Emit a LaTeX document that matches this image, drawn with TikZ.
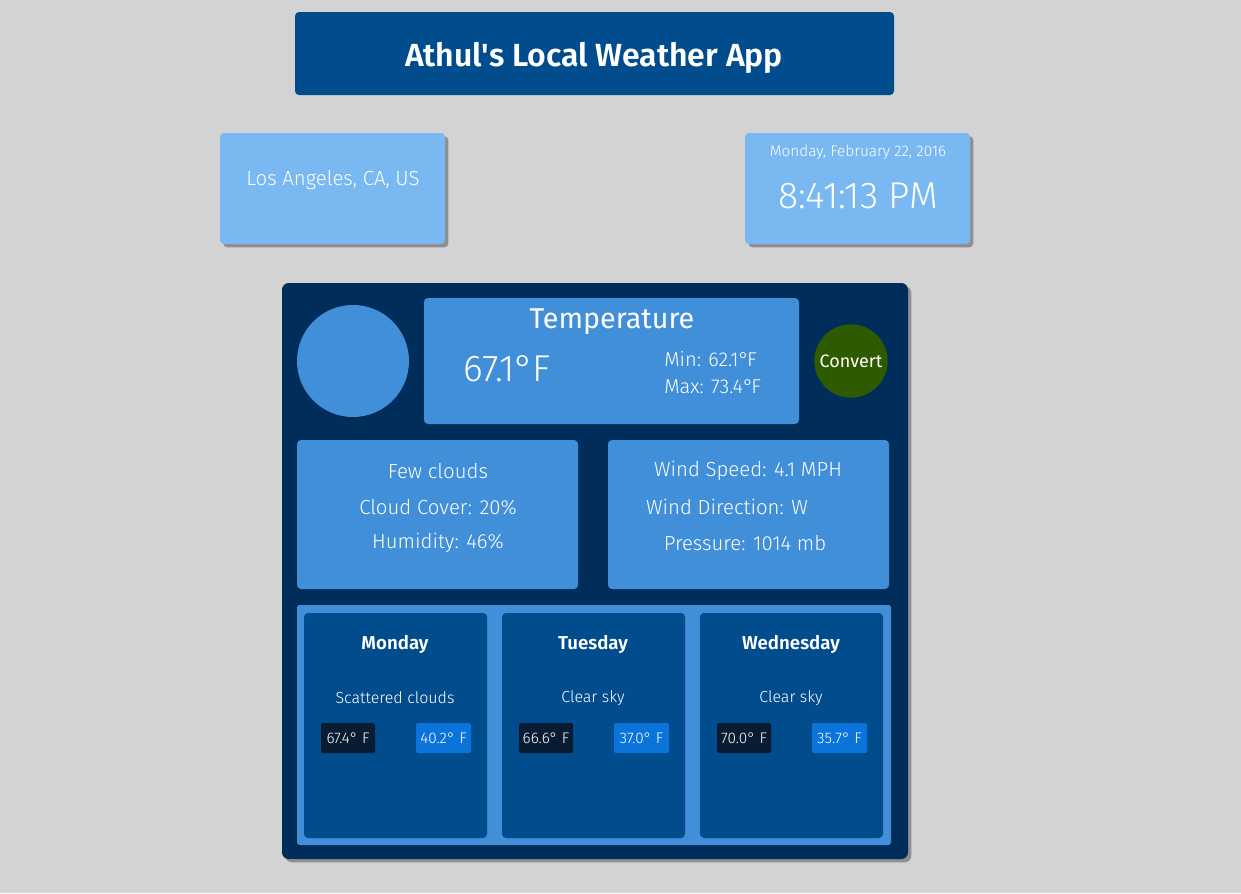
\documentclass[tikz,border=0pt]{standalone}
\usepackage{fontspec}
\setmainfont{Fira Sans}
\newfontfamily\lt{Fira Sans Light}
\newfontfamily\semi{Fira Sans SemiBold}[Ligatures=TeXOff]
\usetikzlibrary{positioning,fit,shadows}
\definecolor{bgc}{RGB}{211,211,211}
\definecolor{navy}{RGB}{0,76,141}
\definecolor{deep}{RGB}{0,45,89}
\definecolor{midblue}{RGB}{66,143,217}
\definecolor{sky}{RGB}{122,184,242}
\definecolor{btn}{RGB}{46,90,0}
\definecolor{hic}{RGB}{10,28,51}
\definecolor{loc}{RGB}{10,116,218}
\newcommand\fs[1]{\fontsize{#1}{#1}\selectfont}
\newcommand\degF{°\kern-1.5pt F}
\begin{document}
\begin{tikzpicture}[x=0.75pt,y=-0.75pt,
  card/.style={inner sep=0pt, rounded corners=3pt},
  shade/.style={drop shadow={shadow xshift=2.5pt, shadow yshift=-2.5pt, fill=black!70}},
  txt/.style={text=white, inner sep=0pt}]
\fill[bgc] (0,0) rectangle (1241,893);
% title
\node[card, fill=navy, fit={(295,12) (894,95)}] (head) {};
\node[txt, font=\semi\fs{24}] (title) at (594,58) {Athul's Local Weather App};
% location and clock
\node[card, fill=sky, shade, fit={(220,133) (445,244)}] (place) {};
\node[txt, font=\lt\fs{15.3}] (city) at (333,180) {Los Angeles, CA, US};
\node[card, fill=sky, shade, fit={(745,133) (970,244)}] (clock) {};
\node[txt, font=\lt\fs{11.5}] (date) at (858,152) {Monday, February 22, 2016};
\node[txt, font=\lt\fs{28}] (time) at (858,196) {8:41:13 PM};
% main panel
\node[card, rounded corners=5pt, fill=deep, shade, fit={(282,283) (908,859)}] (panel) {};
\node[circle, fill=midblue, minimum size=84pt, inner sep=0pt] (icon) at (353,361) {};
\node[card, fill=midblue, fit={(424,298) (799,424)}] (temp) {};
\node[txt, font=\fs{21.5}] (tlabel) at (612,322) {Temperature};
\node[txt, font=\lt\fs{28}] (tnow) at (507,369) {67.1\degF};
\node[txt, font=\lt\fs{15}, anchor=west] (tmin) at (664,359) {Min: 62.1\degF};
\node[txt, font=\lt\fs{15}, anchor=west] (tmax) at (664,387) {Max: 73.4\degF};
\node[circle, fill=btn, minimum size=55pt, inner sep=0pt] (conv) at (851,361) {};
\node[txt, font=\fs{13.5}] (convlabel) at (conv) {Convert};
% sky and wind
\node[card, fill=midblue, fit={(297,440) (578,589)}] (sky) {};
\node[txt, font=\lt\fs{15.3}] (s1) at (438,471) {Few clouds};
\node[txt, font=\lt\fs{15.3}] (s2) at (438,507) {Cloud Cover: 20\%};
\node[txt, font=\lt\fs{15.3}] (s3) at (438,543) {Humidity: 46\%};
\node[card, fill=midblue, fit={(608,440) (889,589)}] (wind) {};
\node[txt, font=\lt\fs{15.3}] (w1) at (748,471) {Wind Speed: 4.1 MPH};
\node[txt, font=\lt\fs{15.3}] (w2) at (727,507) {Wind Direction: W};
\node[txt, font=\lt\fs{15.3}] (w3) at (745,543) {Pressure: 1014 mb};
% forecast
\node[card, rounded corners=2pt, fill=midblue, fit={(297,605) (891,845)}] (week) {};
\foreach \n/\x/\day/\desc/\hi/\lo in {1/304/Monday/Scattered clouds/67.4/40.2,
    2/502/Tuesday/Clear sky/66.6/37.0, 3/700/Wednesday/Clear sky/70.0/35.7}
{
  \node[card, fill=navy, fit={(\x,613) ({\x+183},838)}] (d\n) {};
  \node[txt, font=\semi\fs{14}] (dn\n) at ({\x+91},644) {\day};
  \node[txt, font=\lt\fs{12}] (dd\n) at ({\x+91},698) {\desc};
  \node[card, rounded corners=1.5pt, fill=hic, fit={({\x+17},723) ({\x+71},753)}] (hb\n) {};
  \node[txt, font=\lt\fs{11.5}] at (hb\n) {\hi° F};
  \node[card, rounded corners=1.5pt, fill=loc, fit={({\x+112},723) ({\x+167},753)}] (lb\n) {};
  \node[txt, font=\lt\fs{11.5}] at (lb\n) {\lo° F};
};
\end{tikzpicture}
\end{document}
